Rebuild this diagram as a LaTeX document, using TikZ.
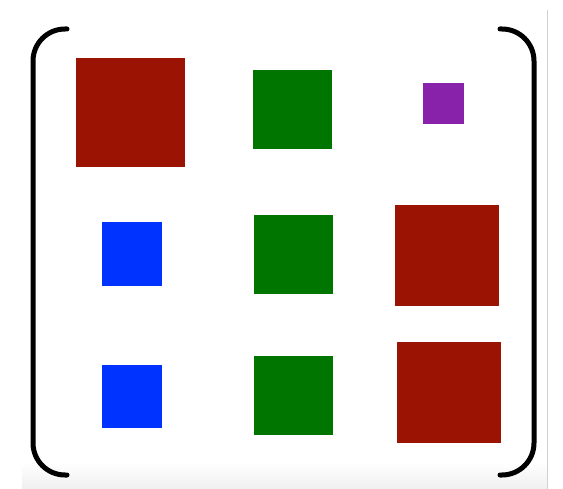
\documentclass[tikz,border=0pt]{standalone}
\definecolor{cred}{RGB}{155,20,3}
\definecolor{cgreen}{RGB}{0,118,0}
\definecolor{cblue}{RGB}{0,51,255}
\definecolor{cpurple}{RGB}{137,34,170}
\tikzset{
  sq/.style={draw=none, inner sep=0pt, outer sep=0pt, minimum width=#1pt, minimum height=#1pt},
  brk/.style={line width=5pt, line cap=round, rounded corners=32pt}
}
\begin{document}
\begin{tikzpicture}[x=1pt,y=-1pt]
\useasboundingbox (0,0) rectangle (563,489);
\shade[top color=white, bottom color=black!6] (22,462) rectangle (547,489);
\draw[black!18, line width=1pt] (547,10) -- (547,489);
% row 1
\node[sq=109, fill=cred] (r1c1) at (130.5,113) {};
\node[sq=79, fill=cgreen] (r1c2) at (292.5,110) {};
\node[sq=41, fill=cpurple] (r1c3) at (443,103.5) {};
% row 2
\node[sq=60, minimum height=64pt, fill=cblue] (r2c1) at (132,254) {};
\node[sq=79, fill=cgreen] (r2c2) at (293.5,254.5) {};
\node[sq=104, minimum height=101pt, fill=cred] (r2c3) at (447,255.5) {};
% row 3
\node[sq=60, minimum height=63pt, fill=cblue] (r3c1) at (132,396.5) {};
\node[sq=79, fill=cgreen] (r3c2) at (293.5,396) {};
\node[sq=104, minimum height=101pt, fill=cred] (r3c3) at (449,392.5) {};
% brackets
\draw[brk] (67,29) -- (33,29) -- (33,475) -- (67,475);
\draw[brk] (500,29) -- (534,29) -- (534,475) -- (500,475);
\end{tikzpicture}
\end{document}
